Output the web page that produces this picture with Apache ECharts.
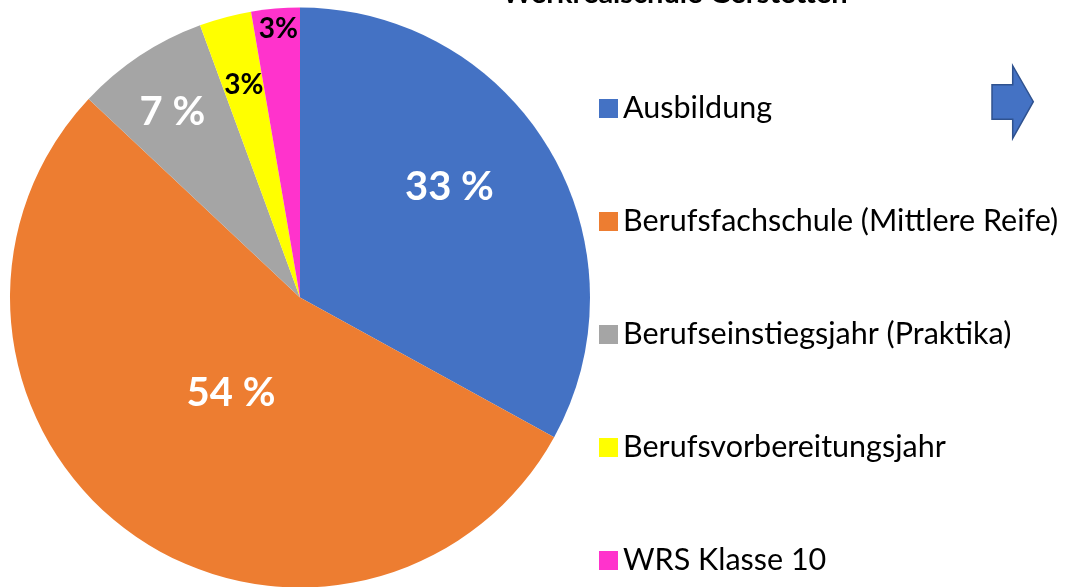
<!DOCTYPE html>
<html>
<head>
<meta charset="utf-8">
<script src="https://cdn.jsdelivr.net/npm/echarts@6/dist/echarts.min.js"></script>
<style>html,body{margin:0;padding:0;background:#fff}#c{width:1065px;height:587px}</style>
</head>
<body>
<div id="c"></div>
<script>
const titleText = 'Werkrealschule Gerstetten';
const categories = ['Ausbildung', 'Berufsfachschule (Mittlere Reife)', 'Berufseinstiegsjahr (Praktika)', 'Berufsvorbereitungsjahr', 'WRS Klasse 10'];
const values = [33, 54, 7.4, 2.9, 2.7];
const labelTexts = ['33 %', '54 %', '7 %', '3%', '3%'];

const colors = ['#4472C4', '#ED7D31', '#A5A5A5', '#FFFF00', '#FF33CC'];
const labelColors = ['#fff', '#fff', '#fff', '#000', '#000'];
const labelSizes = [40, 40, 40, 28, 28];
const labelOffsets = [[22, -35], [18, -24], [-46, -62], [-18, -70], [-9, -121]];

const chart = echarts.init(document.getElementById('c'), null, {renderer: 'canvas'});
chart.setOption({
  animation: false,
  title: {
    text: titleText,
    left: 497,
    top: -26,
    textStyle: {fontFamily: 'Lato', fontWeight: 'bold', fontSize: 29, color: '#000'}
  },
  legend: {
    orient: 'vertical',
    left: 594,
    top: 88,
    itemWidth: 19,
    itemHeight: 19,
    itemGap: 82,
    icon: 'rect',
    textStyle: {fontFamily: 'Lato', fontSize: 30.5, color: '#000', lineHeight: 30, padding: [0, 0, 0, 0]},
    data: categories
  },
  graphic: [{
    type: 'polygon',
    shape: {points: [[992, 84.7], [1012.7, 84.7], [1012.7, 65.7], [1033.3, 101.7], [1012.7, 138.3], [1012.7, 119.3], [992, 119.3]]},
    style: {fill: '#4472C4', stroke: '#2F528F', lineWidth: 1.5}
  }],
  series: [{
    type: 'pie',
    center: [300, 297.5],
    radius: 290,
    startAngle: 90,
    clockwise: true,
    avoidLabelOverlap: false,
    emphasis: {disabled: true},
    itemStyle: {borderWidth: 0},
    labelLine: {show: false},
    data: categories.map((c, i) => ({
      name: c,
      value: values[i],
      itemStyle: {color: colors[i]},
      label: {
        show: true,
        position: 'inside',
        formatter: labelTexts[i],
        color: labelColors[i],
        fontFamily: 'Lato',
        fontWeight: 'bold',
        fontSize: labelSizes[i],
        offset: labelOffsets[i]
      }
    }))
  }]
});
</script>
</body>
</html>
